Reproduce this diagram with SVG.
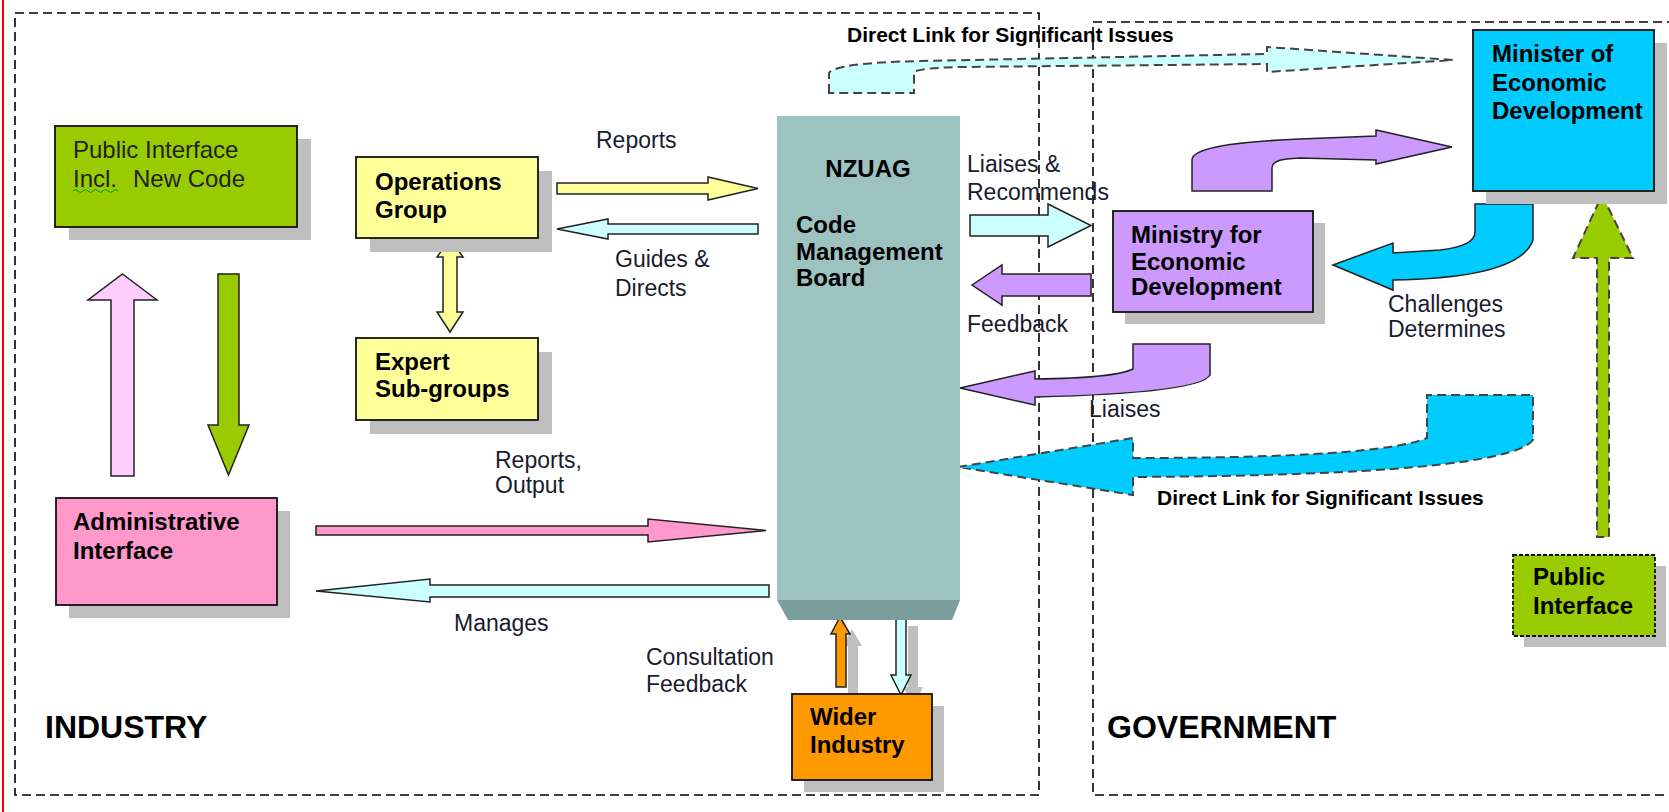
<svg xmlns="http://www.w3.org/2000/svg" width="1669" height="812" viewBox="0 0 1669 812">
<style>
.zone{fill:none;stroke:#000;stroke-width:1.6;stroke-dasharray:9 5}
.shadow{fill:#bfbfbf}
.box{stroke:#111;stroke-width:1.8}
.arr{stroke:#222;stroke-width:1.5;stroke-linejoin:miter}
.darr{stroke:#444;stroke-width:2;stroke-dasharray:9 5}
.node{font-family:"Liberation Sans",Arial,sans-serif;font-weight:bold;font-size:24px;fill:#000}
.lbl{font-family:"Liberation Sans",Arial,sans-serif;font-size:23px;fill:#1a1a2e}
.blbl{font-family:"Liberation Sans",Arial,sans-serif;font-weight:bold;font-size:21px;fill:#000}
.zlbl{font-family:"Liberation Sans",Arial,sans-serif;font-weight:bold;font-size:32px;fill:#000}
</style>
<rect x="0" y="0" width="1669" height="812" fill="#fff"/>
<line x1="3" y1="0" x2="3" y2="812" stroke="#ff0000" stroke-width="2"/>

<g id="zones">
<rect class="zone" x="15" y="13" width="1024" height="782"/>
<rect class="zone" x="1093" y="22" width="620" height="773"/>
<text class="zlbl" x="45" y="738">INDUSTRY</text>
<text class="zlbl" x="1107" y="738">GOVERNMENT</text>
</g>

<g id="connectors">
<!-- Reports (Ops -> NZUAG) -->
<polygon class="arr" fill="#ffff99" points="557,183 708,183 708,177 758,188.5 708,200 708,194 557,194"/>
<!-- Guides & Directs -->
<polygon class="arr" fill="#ccffff" points="557,229 608,219 608,224 758,224 758,234 608,234 608,239"/>
<!-- Ops <-> Expert -->
<polygon class="arr" fill="#ffff99" points="450,239 463,257 457,257 457,312 463,312 450,332 437,312 443,312 443,257 437,257"/>
<!-- Admin -> Public Interface -->
<polygon class="arr" fill="#ffccff" points="122.5,274 157,300 134,300 134,476 111,476 111,300 88,300"/>
<!-- Public Interface -> Admin -->
<polygon class="arr" fill="#99cc00" points="218,274 239,274 239,425 249,425 228.5,475 208,425 218,425"/>
<!-- Reports, Output -->
<polygon class="arr" fill="#ff99cc" points="316,526 648,526 648,519 766,530.5 648,542 648,535 316,535"/>
<!-- Manages -->
<polygon class="arr" fill="#ccffff" points="316,591 430,579 430,585 769,585 769,597 430,597 430,602"/>
<!-- Liaises & Recommends -->
<polygon class="arr" fill="#ccffff" points="970,215 1048,215 1048,204 1091,225.5 1048,247 1048,236 970,236"/>
<!-- Feedback -->
<polygon class="arr" fill="#cc99ff" points="972,285 1002,265 1002,274 1091,274 1091,296 1002,296 1002,305"/>
<!-- Liaises curved -->
<path class="arr" fill="#cc99ff" d="M960,388 L1035,371 L1035,379 Q1115,378 1133,369 L1133,344 L1210,344 L1210,375 Q1200,393 1035,397 L1035,405 Z"/>
<!-- Direct link bottom (dashed) -->
<path class="darr" fill="#00ccff" d="M958,467 L1133,438 L1133,458 Q1380,458 1427,438 L1427,395 L1533,395 L1533,440 Q1505,475 1133,477 L1133,495 Z"/>
<!-- Direct link top (dashed) -->
<path class="darr" fill="#ccffff" d="M829,93 L829,73 Q835,63 920,61 L1267,54 L1267,47 L1453,60 L1267,72 L1267,64 L960,67 Q920,68 914,72 L914,93 Z"/>
<!-- Ministry -> Minister -->
<path class="arr" fill="#cc99ff" d="M1192,191 L1192,160 C1192,148 1230,142 1300,139 L1376,136 L1376,130 L1452,147 L1376,164 L1376,160 L1300,158 C1280,159 1272,161 1272,168 L1272,191 Z"/>
<!-- Minister -> Ministry -->
<path class="arr" fill="#00ccff" d="M1333,265 L1393,243 L1393,253 L1440,250 Q1475,246 1475,232 L1475,204 L1533,204 L1533,240 Q1520,278 1393,280 L1393,290 Z"/>
<!-- Public Interface (gov) -> Minister -->
<polygon class="darr" fill="#99cc00" points="1602,195 1633,258 1609,258 1609,537 1597,537 1597,258 1573,258"/>
<!-- Wider Industry arrows with shadows -->
<polygon class="shadow" points="852,629 862,646 858,646 858,699 848,699 848,646 843,646"/>
<polygon class="shadow" points="908,626 918,626 918,687 923,687 914,707 903,687 908,687"/>
<polygon class="arr" fill="#ff9900" points="840,617 850,634 846,634 846,687 836,687 836,634 831,634"/>
<polygon class="arr" fill="#ccffff" points="896,614 906,614 906,675 911,675 901,695 891,675 896,675"/>
</g>

<g id="nzuag">
<rect x="777" y="116" width="183" height="484" fill="#9dc3c1"/>
<polygon points="777,600 960,600 952,620 788,620" fill="#7a9e9c"/>
<text class="node" x="868" y="177" text-anchor="middle">NZUAG</text>
<text class="node" x="796" y="233">Code</text>
<text class="node" x="796" y="260">Management</text>
<text class="node" x="796" y="286">Board</text>
</g>

<g id="public-interface-industry">
<rect class="shadow" x="69" y="139" width="242" height="101"/>
<rect class="box" x="55" y="126" width="242" height="101" fill="#99cc00"/>
<text class="lbl" x="73" y="158" style="font-size:24px;fill:#222">Public Interface</text>
<text class="lbl" x="73" y="187" style="font-size:24px;fill:#222">Incl.<tspan x="133">New Code</tspan></text>
<path d="M73,191 q2.5,-3 5,0 t5,0 t5,0 t5,0 t5,0 t5,0 t5,0 t5,0 t5,0" fill="none" stroke="#009900" stroke-width="1"/>
</g>

<g id="administrative-interface">
<rect class="shadow" x="69" y="511" width="221" height="107"/>
<rect class="box" x="56" y="498" width="221" height="107" fill="#ff99cc"/>
<text class="node" x="73" y="530">Administrative</text>
<text class="node" x="73" y="559">Interface</text>
</g>

<g id="operations-group">
<rect class="shadow" x="370" y="171" width="182" height="81"/>
<rect class="box" x="356" y="157" width="182" height="81" fill="#ffff99"/>
<text class="node" x="375" y="190">Operations</text>
<text class="node" x="375" y="218">Group</text>
</g>

<g id="expert-subgroups">
<rect class="shadow" x="370" y="352" width="182" height="82"/>
<rect class="box" x="356" y="338" width="182" height="82" fill="#ffff99"/>
<text class="node" x="375" y="370">Expert</text>
<text class="node" x="375" y="397">Sub-groups</text>
</g>

<g id="ministry">
<rect class="shadow" x="1125" y="223" width="200" height="101"/>
<rect class="box" x="1113" y="211" width="200" height="101" fill="#cc99ff"/>
<text class="node" x="1131" y="243">Ministry for</text>
<text class="node" x="1131" y="270">Economic</text>
<text class="node" x="1131" y="295">Development</text>
</g>

<g id="minister">
<rect class="shadow" x="1486" y="43" width="181" height="161"/>
<rect class="box" x="1473" y="30" width="181" height="161" fill="#00ccff"/>
<text class="node" x="1492" y="62">Minister of</text>
<text class="node" x="1492" y="91">Economic</text>
<text class="node" x="1492" y="119">Development</text>
</g>

<g id="public-interface-government">
<rect class="shadow" x="1524" y="566" width="142" height="81"/>
<rect x="1513" y="555" width="142" height="81" fill="#99cc00" stroke="#111" stroke-width="1.8" stroke-dasharray="4 2"/>
<text class="node" x="1533" y="585">Public</text>
<text class="node" x="1533" y="614">Interface</text>
</g>

<g id="wider-industry">
<rect class="shadow" x="804" y="706" width="140" height="86"/>
<rect class="box" x="792" y="694" width="140" height="86" fill="#ff9900"/>
<text class="node" x="810" y="725">Wider</text>
<text class="node" x="810" y="753">Industry</text>
</g>

<g id="labels">
<text class="lbl" x="596" y="148">Reports</text>
<text class="lbl" x="615" y="267">Guides &amp;</text>
<text class="lbl" x="615" y="296">Directs</text>
<text class="lbl" x="967" y="172">Liaises &amp;</text>
<text class="lbl" x="967" y="200">Recommends</text>
<text class="lbl" x="967" y="332">Feedback</text>
<text class="lbl" x="1089" y="417">Liaises</text>
<text class="lbl" x="1388" y="312">Challenges</text>
<text class="lbl" x="1388" y="337">Determines</text>
<text class="lbl" x="495" y="468">Reports,</text>
<text class="lbl" x="495" y="493">Output</text>
<text class="lbl" x="454" y="631">Manages</text>
<text class="lbl" x="646" y="665">Consultation</text>
<text class="lbl" x="646" y="692">Feedback</text>
<text class="blbl" x="847" y="42">Direct Link for Significant Issues</text>
<text class="blbl" x="1157" y="505">Direct Link for Significant Issues</text>
</g>
</svg>
